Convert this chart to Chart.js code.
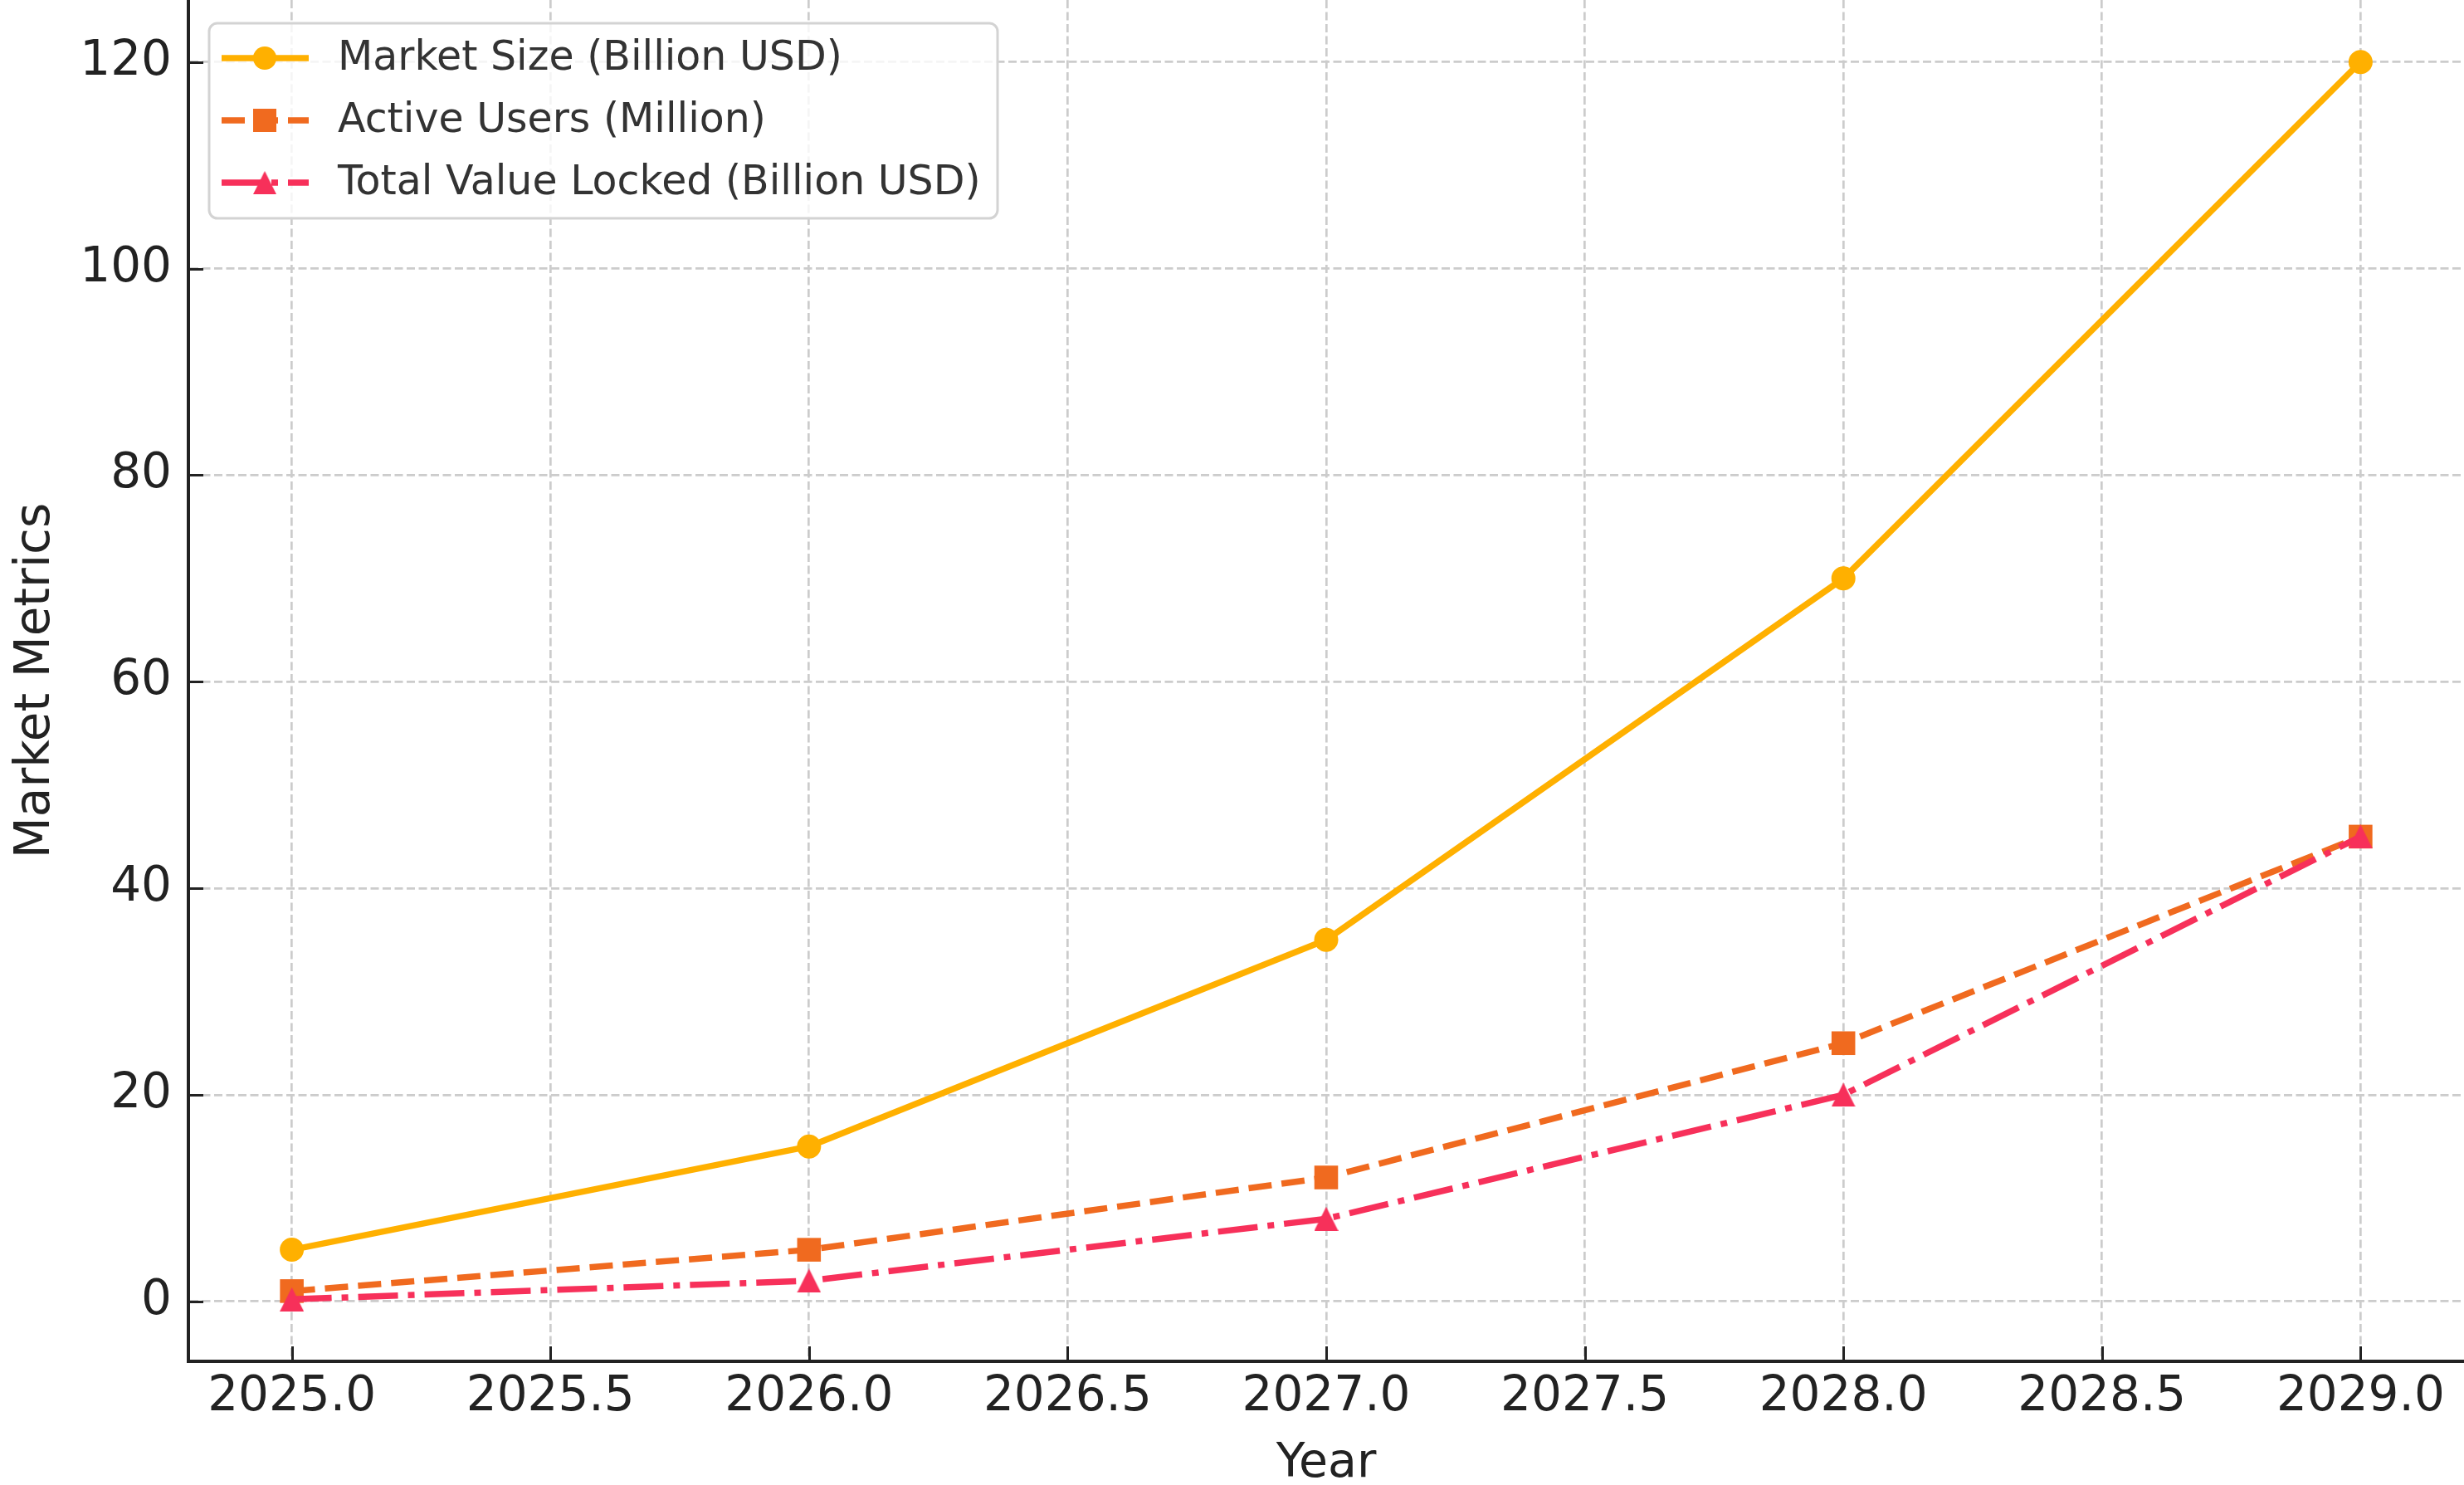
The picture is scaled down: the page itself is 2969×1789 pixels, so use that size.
<!DOCTYPE html>
<html>
<head>
<meta charset="utf-8">
<script src="https://cdn.jsdelivr.net/npm/chart.js@4/dist/chart.umd.min.js"></script>
<style>
  html, body { margin: 0; padding: 0; background: #ffffff; }
  #wrap { width: 2969px; height: 1789px; }
</style>
</head>
<body>
<div id="wrap"><canvas id="c" width="2969" height="1789"></canvas></div>
<script>
// ---- data ----
const years = [2025, 2026, 2027, 2028, 2029];
const marketSize = [5, 15, 35, 70, 120];
const activeUsers = [1, 5, 12, 25, 45];
const totalValueLocked = [0.2, 2, 8, 20, 45];
const seriesNames = ['Market Size (Billion USD)', 'Active Users (Million)', 'Total Value Locked (Billion USD)'];
const xTickValues = [2025.0, 2025.5, 2026.0, 2026.5, 2027.0, 2027.5, 2028.0, 2028.5, 2029.0];
const yTickValues = [0, 20, 40, 60, 80, 100, 120];
const xLabel = 'Year';
const yLabel = 'Market Metrics';

// ---- styles ----
const FONT = "'DejaVu Sans', 'Liberation Sans', sans-serif";
const colors = ['#FFB000', '#F06A1F', '#F7305A'];
const LW = 7.5;
const dashes = [[], [28, 12], [48, 12, 8, 12]];

function makeTriangle(color, size) {
  const c = document.createElement('canvas');
  c.width = size; c.height = size;
  const g = c.getContext('2d');
  g.fillStyle = color;
  g.beginPath();
  g.moveTo(size / 2, 0);
  g.lineTo(size, size);
  g.lineTo(0, size);
  g.closePath();
  g.fill();
  return c;
}
const triImg = makeTriangle(colors[2], 29);

const toPts = arr => years.map((y, i) => ({ x: y, y: arr[i] }));

const datasets = [
  { label: seriesNames[0], data: toPts(marketSize), borderColor: colors[0], backgroundColor: colors[0],
    borderWidth: LW, borderDash: dashes[0], pointStyle: 'circle', pointRadius: 14.5, pointBorderWidth: 0, order: 3 },
  { label: seriesNames[1], data: toPts(activeUsers), borderColor: colors[1], backgroundColor: colors[1],
    borderWidth: LW, borderDash: dashes[1], pointStyle: 'rect', pointRadius: 20.2, pointBorderWidth: 0, order: 2 },
  { label: seriesNames[2], data: toPts(totalValueLocked), borderColor: colors[2], backgroundColor: colors[2],
    borderWidth: LW, borderDash: dashes[2], pointStyle: triImg, pointRadius: 14.5, pointBorderWidth: 0, order: 1 }
];
datasets.forEach(d => { d.tension = 0; d.fill = false; d.pointHoverRadius = d.pointRadius; d.borderCapStyle = 'butt'; d.borderJoinStyle = 'round'; d.clip = false; });

// inward tick marks + legend
const decoPlugin = {
  id: 'deco',
  afterDatasetsDraw(chart) {
    const ctx = chart.ctx;
    const xs = chart.scales.x, ys = chart.scales.y, a = chart.chartArea;
    ctx.save();
    ctx.strokeStyle = '#222222';
    ctx.lineWidth = 3;
    ctx.beginPath();
    xTickValues.forEach(v => {
      const px = Math.round(xs.getPixelForValue(v)) + 0.5;
      ctx.moveTo(px, a.bottom); ctx.lineTo(px, a.bottom - 18);
    });
    yTickValues.forEach(v => {
      const py = Math.round(ys.getPixelForValue(v)) + 0.5;
      ctx.moveTo(a.left, py); ctx.lineTo(a.left + 18, py);
    });
    ctx.stroke();
    ctx.restore();
  },
  afterDraw(chart) {
    const ctx = chart.ctx;
    const bx = 252, by = 28, bw = 950, bh = 235, r = 10;
    ctx.save();
    ctx.beginPath();
    ctx.moveTo(bx + r, by);
    ctx.arcTo(bx + bw, by, bx + bw, by + bh, r);
    ctx.arcTo(bx + bw, by + bh, bx, by + bh, r);
    ctx.arcTo(bx, by + bh, bx, by, r);
    ctx.arcTo(bx, by, bx + bw, by, r);
    ctx.closePath();
    ctx.fillStyle = 'rgba(255,255,255,0.8)';
    ctx.fill();
    ctx.strokeStyle = '#d3d3d3';
    ctx.lineWidth = 3;
    ctx.stroke();

    const rows = [70, 145, 220];
    chart.data.datasets.forEach((ds, i) => {
      const y = rows[i];
      ctx.save();
      ctx.strokeStyle = ds.borderColor;
      ctx.lineWidth = LW;
      ctx.lineCap = 'butt';
      ctx.setLineDash(ds.borderDash);
      ctx.beginPath();
      ctx.moveTo(267, y); ctx.lineTo(372, y);
      ctx.stroke();
      ctx.restore();
      const st = ds.pointStyle;
      ctx.fillStyle = ds.backgroundColor;
      if (st === 'circle') {
        ctx.beginPath(); ctx.arc(319, y, 14, 0, Math.PI * 2); ctx.fill();
      } else if (st === 'rect') {
        ctx.fillRect(305, y - 14, 28, 28);
      } else {
        ctx.drawImage(st, 305, y - 14, 28, 28);
      }
      ctx.fillStyle = '#333333';
      ctx.font = '49px ' + FONT;
      ctx.textBaseline = 'middle';
      ctx.textAlign = 'left';
      ctx.fillText(ds.label, 407, y + 1);
    });
    ctx.restore();
  }
};

new Chart(document.getElementById('c'), {
  type: 'line',
  data: { datasets },
  options: {
    responsive: false,
    animation: false,
    events: [],
    layout: { padding: 0, autoPadding: false },
    plugins: { legend: { display: false }, tooltip: { enabled: false } },
    scales: {
      x: {
        type: 'linear',
        min: 2024.8, max: 2029.2,
        afterBuildTicks: s => { s.ticks = xTickValues.map(v => ({ value: v })); },
        afterFit: s => { s.height = 149; s.paddingLeft = 0; s.paddingRight = 0; },
        ticks: {
          autoSkip: false, maxRotation: 0, minRotation: 0, padding: 9,
          color: '#222222', font: { family: FONT, size: 58 },
          callback: v => Number(v).toFixed(1)
        },
        grid: { color: '#cccccc', lineWidth: 2.7, drawTicks: false },
        border: { display: true, color: '#222222', width: 4, dash: [10, 4.5] },
        title: { display: true, text: xLabel, color: '#222222', font: { family: FONT, size: 57, lineHeight: 1 }, padding: { top: 0, bottom: -4 } }
      },
      y: {
        type: 'linear',
        min: -5.8, max: 126,
        afterBuildTicks: s => { s.ticks = yTickValues.map(v => ({ value: v })); },
        afterFit: s => { s.width = 227; s.paddingTop = 0; s.paddingBottom = 0; },
        ticks: {
          autoSkip: false, padding: 20,
          color: '#222222', font: { family: FONT, size: 58 },
          callback: v => String(v)
        },
        grid: { color: '#cccccc', lineWidth: 2.7, drawTicks: false },
        border: { display: true, color: '#222222', width: 4, dash: [10, 4.5] },
        title: { display: true, text: yLabel, color: '#222222', font: { family: FONT, size: 58, lineHeight: 1 }, padding: { top: 15, bottom: 0 } }
      }
    }
  },
  plugins: [decoPlugin]
});
</script>
</body>
</html>
